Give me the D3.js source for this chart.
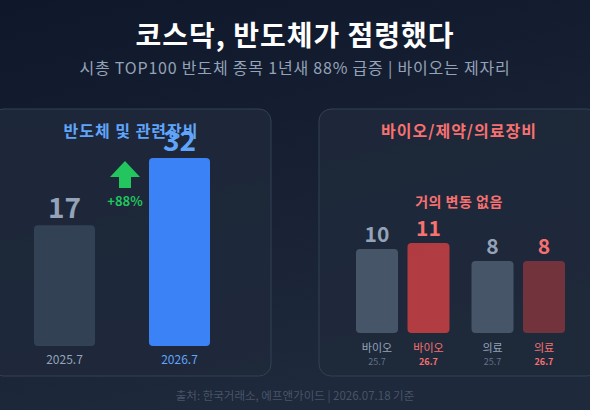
<!DOCTYPE html>
<html>
<head>
<meta charset="utf-8">
<script src="https://cdn.jsdelivr.net/npm/d3@7"></script>
<style>
  html, body { margin: 0; padding: 0; background: #0f172a; }
  svg { display: block; font-family: "Noto Sans CJK KR", "Noto Sans", sans-serif; }
</style>
</head>
<body>
<script>
// chart data
var semiPeriods = ["2025.7", "2026.7"];
var semiCounts = [17, 32];
var semiChange = "+88%";

var bioGroups = ["바이오", "바이오", "의료", "의료"];
var bioPeriods = ["25.7", "26.7", "25.7", "26.7"];
var bioCounts = [10, 11, 8, 8];

var width = 590, height = 410;

const svg = d3.select("body").append("svg")
    .attr("width", width)
    .attr("height", height);

// background gradient
var defs = svg.append("defs");
var grad = defs.append("linearGradient")
    .attr("id", "bg")
    .attr("x1", "0").attr("y1", "0")
    .attr("x2", "0.35").attr("y2", "1");
grad.append("stop").attr("offset", "0%").attr("stop-color", "#0f172a");
grad.append("stop").attr("offset", "100%").attr("stop-color", "#1e293b");

svg.append("rect")
    .attr("width", width).attr("height", height)
    .attr("fill", "url(#bg)");

// titles
svg.append("text")
    .attr("x", width / 2).attr("y", 46)
    .attr("text-anchor", "middle")
    .attr("fill", "#ffffff")
    .style("font-size", "28px").style("font-weight", 700)
    .style("letter-spacing", "1px")
    .text("코스닥, 반도체가 점령했다");

svg.append("text")
    .attr("x", width / 2).attr("y", 74)
    .attr("text-anchor", "middle")
    .attr("fill", "#94a3b8")
    .style("font-size", "16px")
    .style("letter-spacing", "0.8px")
    .text("시총 TOP100 반도체 종목 1년새 88% 급증 | 바이오는 제자리");

// panels
var panels = [{ x: -9, title: "반도체 및 관련장비", color: "#60a5fa" },
              { x: 319, title: "바이오/제약/의료장비", color: "#f87171" }];
var panelW = 280, panelTop = 109, panelH = 267;

panels.forEach(function (p) {
    svg.append("rect")
        .attr("x", p.x).attr("y", panelTop)
        .attr("width", panelW).attr("height", panelH)
        .attr("rx", 12)
        .attr("fill", "#1e293b")
        .attr("fill-opacity", 0.85)
        .attr("stroke", "#334155")
        .attr("stroke-width", 1);
    svg.append("text")
        .attr("x", p.x + panelW / 2).attr("y", 137)
        .attr("text-anchor", "middle")
        .attr("fill", p.color)
        .style("font-size", "16px").style("font-weight", 700)
        .style("letter-spacing", "1px")
        .text(p.title);
});

// ****************** left panel ***************************
var bwL = 61;
var xL = d3.scalePoint().domain(semiPeriods).range([34 + bwL / 2, 210 - bwL / 2]);

// bars start from an offset baseline so the small one still reads
var yL = d3.scaleLinear().domain([-10, 32]).range([346, 158]);

var leftFill = ["#334155", "#3b82f6"];
var leftText = ["#94a3b8", "#60a5fa"];

var gL = svg.append("g");
gL.selectAll("rect.bar")
    .data(semiCounts)
    .enter().append("rect")
    .attr("class", "bar")
    .attr("x", function (d, i) { return xL(semiPeriods[i]) - bwL / 2; })
    .attr("y", function (d) { return yL(d); })
    .attr("width", bwL)
    .attr("height", function (d) { return yL(-10) - yL(d); })
    .attr("rx", 4)
    .attr("fill", function (d, i) { return leftFill[i]; });

gL.selectAll("text.val")
    .data(semiCounts)
    .enter().append("text")
    .attr("class", "val")
    .attr("x", function (d, i) { return xL(semiPeriods[i]); })
    .attr("y", function (d) { return yL(d) - 7; })
    .attr("text-anchor", "middle")
    .attr("fill", function (d, i) { return leftText[i]; })
    .style("font-size", "28px").style("font-weight", 700)
    .text(function (d) { return d; });

gL.selectAll("text.cat")
    .data(semiPeriods)
    .enter().append("text")
    .attr("class", "cat")
    .attr("x", function (d) { return xL(d); })
    .attr("y", 364)
    .attr("text-anchor", "middle")
    .attr("fill", function (d, i) { return leftText[i]; })
    .style("font-size", "12px")
    .text(function (d) { return d; });

// growth arrow
var ax = 125, ay = 161;
gL.append("path")
    .attr("d", "M " + ax + "," + ay + " L " + (ax + 15) + "," + (ay + 16) +
        " L " + (ax + 6) + "," + (ay + 16) + " L " + (ax + 6) + "," + (ay + 27) +
        " L " + (ax - 6) + "," + (ay + 27) + " L " + (ax - 6) + "," + (ay + 16) +
        " L " + (ax - 15) + "," + (ay + 16) + " Z")
    .attr("fill", "#22c55e");
gL.append("text")
    .attr("x", ax).attr("y", 206)
    .attr("text-anchor", "middle")
    .attr("fill", "#22c55e")
    .style("font-size", "13px").style("font-weight", 700)
    .text(semiChange);

// ****************** right panel ***************************
var yR = d3.scaleLinear().domain([-4, 11]).range([333, 243]);
var bwR = 42;
// two pairs of bars, wider gap between the pairs
var xR = function (i) { return [356, 407.5, 471.5, 523][i]; };
var rightFill = ["#475569", "#ef4444", "#475569", "#ef4444"];
var rightOpacity = [1, 0.7, 1, 0.4];
var rightText = ["#94a3b8", "#f87171", "#94a3b8", "#f87171"];

var gR = svg.append("g");
gR.selectAll("rect.bar")
    .data(bioCounts)
    .enter().append("rect")
    .attr("class", "bar")
    .attr("x", function (d, i) { return xR(i); })
    .attr("y", function (d) { return yR(d); })
    .attr("width", bwR)
    .attr("height", function (d) { return yR(-4) - yR(d); })
    .attr("rx", 4)
    .attr("fill", function (d, i) { return rightFill[i]; })
    .attr("fill-opacity", function (d, i) { return rightOpacity[i]; });

gR.selectAll("text.val")
    .data(bioCounts)
    .enter().append("text")
    .attr("class", "val")
    .attr("x", function (d, i) { return xR(i) + bwR / 2; })
    .attr("y", function (d) { return yR(d) - 7; })
    .attr("text-anchor", "middle")
    .attr("fill", function (d, i) { return rightText[i]; })
    .style("font-size", "21px").style("font-weight", 700)
    .text(function (d) { return d; });

gR.selectAll("text.cat")
    .data(bioGroups)
    .enter().append("text")
    .attr("class", "cat")
    .attr("x", function (d, i) { return xR(i) + bwR / 2; })
    .attr("y", 352)
    .attr("text-anchor", "middle")
    .attr("fill", function (d, i) { return rightText[i]; })
    .style("font-size", "11px")
    .text(function (d) { return d; });

gR.selectAll("text.per")
    .data(bioPeriods)
    .enter().append("text")
    .attr("class", "per")
    .attr("x", function (d, i) { return xR(i) + bwR / 2; })
    .attr("y", 365)
    .attr("text-anchor", "middle")
    .attr("fill", function (d, i) { return i % 2 ? "#f87171" : "#64748b"; })
    .style("font-size", "9px")
    .style("font-weight", function (d, i) { return i % 2 ? 700 : 400; })
    .text(function (d) { return d; });

gR.append("text")
    .attr("x", 459).attr("y", 207)
    .attr("text-anchor", "middle")
    .attr("fill", "#f87171")
    .style("font-size", "14px").style("font-weight", 700)
    .style("letter-spacing", "0.5px")
    .text("거의 변동 없음");

// footer
svg.append("text")
    .attr("x", width / 2).attr("y", 400)
    .attr("text-anchor", "middle")
    .attr("fill", "#475569")
    .style("font-size", "11.5px")
    .text("출처: 한국거래소, 에프앤가이드 | 2026.07.18 기준");
</script>
</body>
</html>
